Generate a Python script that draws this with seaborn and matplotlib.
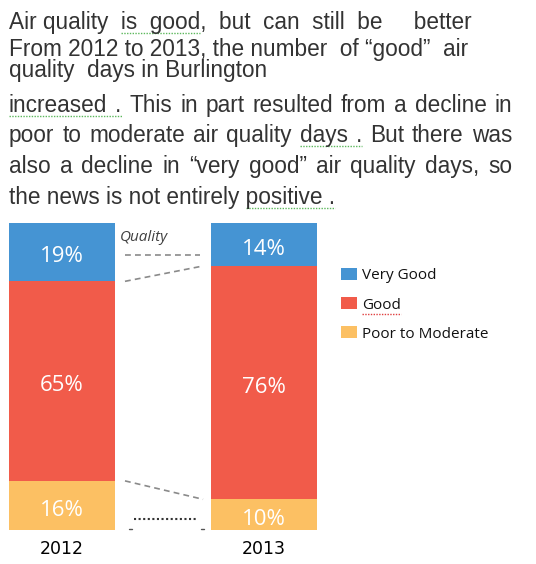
import matplotlib
matplotlib.use("Agg")
import matplotlib.pyplot as plt
import seaborn as sns
import pandas as pd
from matplotlib.patches import Patch
from matplotlib.lines import Line2D

# ---- data ----
years = ["2012", "2013"]
very_good = [19, 14]
good = [65, 76]
poor_moderate = [16, 10]
categories = ["Very Good", "Good", "Poor to Moderate"]
colors = ["#4594D3", "#F15B4A", "#FCC063"]

title_lines = [
    "Air quality  is  good,  but  can  still  be     better",
    "From 2012 to 2013, the number  of \u201cgood\u201d  air",
    "quality  days in Burlington",
]
body_lines = [
    "increased . This in part resulted from a decline in",
    "poor to moderate air quality days . But there was",
    "also a decline in \u201cvery good\u201d air quality days, so",
    "the news is not entirely positive .",
]

sns.set_theme(style="white")
plt.rcParams['font.family'] = ['DejaVu Sans']

W, H = 536, 564
fig = plt.figure(figsize=(W / 100, H / 100), dpi=100)
renderer = fig.canvas.get_renderer()

bw = 0.523
left_px, right_px, top_px, bot_px = 9, 317, 223, 530
ax = fig.add_axes([left_px / W, 1 - bot_px / H, (right_px - left_px) / W, (bot_px - top_px) / H])

df = pd.DataFrame({"year": years, "vg": very_good, "good": good, "poor": poor_moderate})
df["top"] = df["vg"] + df["good"] + df["poor"]
df["mid"] = df["good"] + df["poor"]

sns.barplot(data=df, x="year", y="top", color=colors[0], width=bw, ax=ax, saturation=1, linewidth=0)
sns.barplot(data=df, x="year", y="mid", color=colors[1], width=bw, ax=ax, saturation=1, linewidth=0)
sns.barplot(data=df, x="year", y="poor", color=colors[2], width=bw, ax=ax, saturation=1, linewidth=0)

ax.set_xlim(-bw / 2, 1 + bw / 2)
ax.set_ylim(0, 100)
ax.set_xlabel("")
ax.set_ylabel("")
ax.set_yticks([])
ax.set_xticks([])
for s in ax.spines.values():
    s.set_visible(False)

# segment labels
for i in range(len(years)):
    p, g, v = poor_moderate[i], good[i], very_good[i]
    for val, center in [(p, p / 2), (g, p + g / 2), (v, p + g + v / 2)]:
        ax.text(i, center - 1.5, f"{val}%", ha="center", va="center", color="white",
                fontsize=16, family=["Open Sans", "DejaVu Sans"])

# year labels
for i, y in enumerate(years):
    ax.text(i, -6.2, y, ha="center", va="center", fontsize=12.5, color="black",
            family=["DejaVu Sans"], clip_on=False)

# connector lines (decorative)
x0, x1 = 0.312, 0.683
dash = dict(color="#8a8a8a", lw=1.2, linestyle=(0, (3.5, 2.5)), clip_on=False)
ax.plot([x0, x1], [89.6, 89.6], **dash)
ax.plot([x0, x1 + 0.015], [poor_moderate[0] + good[0], poor_moderate[1] + good[1]], **dash)
ax.plot([x0, x1 + 0.015], [poor_moderate[0], poor_moderate[1]], **dash)
ax.plot([0.357, 0.663], [3.6, 3.6], color="#333333", lw=1.5, linestyle=(0, (1, 1.2)), clip_on=False)
ax.plot([0.33, 0.345], [0.3, 0.3], color="#555555", lw=1, clip_on=False)
ax.plot([0.69, 0.705], [0.3, 0.3], color="#555555", lw=1, clip_on=False)
ax.text(0.287, 95.3, "Quality", ha="left", va="center", fontsize=11, style="italic",
        color="#404040", family=["Open Sans", "DejaVu Sans"])

# legend
handles = [Patch(facecolor=c, edgecolor="none") for c in colors]
leg = fig.legend(handles, categories, loc="upper left", bbox_to_anchor=(341 / W, 1 - 268 / H),
                 frameon=False, handlelength=1.05, handleheight=0.85, borderpad=0, borderaxespad=0,
                 handletextpad=0.35, labelspacing=0.9,
                 prop={"family": ["Open Sans", "DejaVu Sans"], "size": 11})
for t in leg.get_texts():
    t.set_color("#111111")

# title / body text
tfam = ["Liberation Sans", "DejaVu Sans"]
tcol = "#333333"
FS = 16.3
squig = []  # (x0_px, x1_px, y_px, color)


def width_px(s):
    t = fig.text(0, 0, s, fontsize=FS, family=tfam)
    w = t.get_window_extent(renderer).width
    t.remove()
    return w


title_base = [29, 56, 77]
for line, yb in zip(title_lines, title_base):
    fig.text(9 / W, 1 - yb / H, line, ha="left", va="baseline", fontsize=FS, color=tcol, family=tfam)
# squiggle under "is  good"
squig.append((9 + width_px("Air quality  "), 9 + width_px("Air quality  is  good"), 29 + 4, "#5cb85c"))

body_base = [112, 142, 173, 204]
x_start, x_end = 9, 512
body_squig = {0: (0, 1), 1: (5, 6)}
for k, (line, yb) in enumerate(zip(body_lines, body_base)):
    words = line.split(" ")
    y = 1 - yb / H
    if k == len(body_lines) - 1:
        fig.text(x_start / W, y, line, ha="left", va="baseline", fontsize=FS, color=tcol, family=tfam)
        squig.append((x_start + width_px("the news is not entirely "), x_start + width_px(line), yb + 4, "#5cb85c"))
        continue
    objs = [fig.text(0, y, w, ha="left", va="baseline", fontsize=FS, color=tcol, family=tfam) for w in words]
    widths = [o.get_window_extent(renderer).width for o in objs]
    gap = (x_end - x_start - sum(widths)) / (len(words) - 1)
    xp = x_start
    starts = []
    for o, wd in zip(objs, widths):
        o.set_x(xp / W)
        starts.append(xp)
        xp += wd + gap
    if k in body_squig:
        a, b = body_squig[k]
        squig.append((starts[a], starts[b] + widths[b], yb + 4, "#5cb85c"))

# red squiggle under "Good" in legend
fig.canvas.draw()
gb = leg.get_texts()[1].get_window_extent(renderer)
squig.append((gb.x0, gb.x1, H - gb.y0 + 1, "#e04040"))

for xa, xb, yy, c in squig:
    fig.add_artist(Line2D([xa / W, xb / W], [1 - yy / H, 1 - yy / H], transform=fig.transFigure,
                          color=c, lw=1.0, linestyle=(0, (1, 1))))

fig.savefig("out.png", dpi=100)
